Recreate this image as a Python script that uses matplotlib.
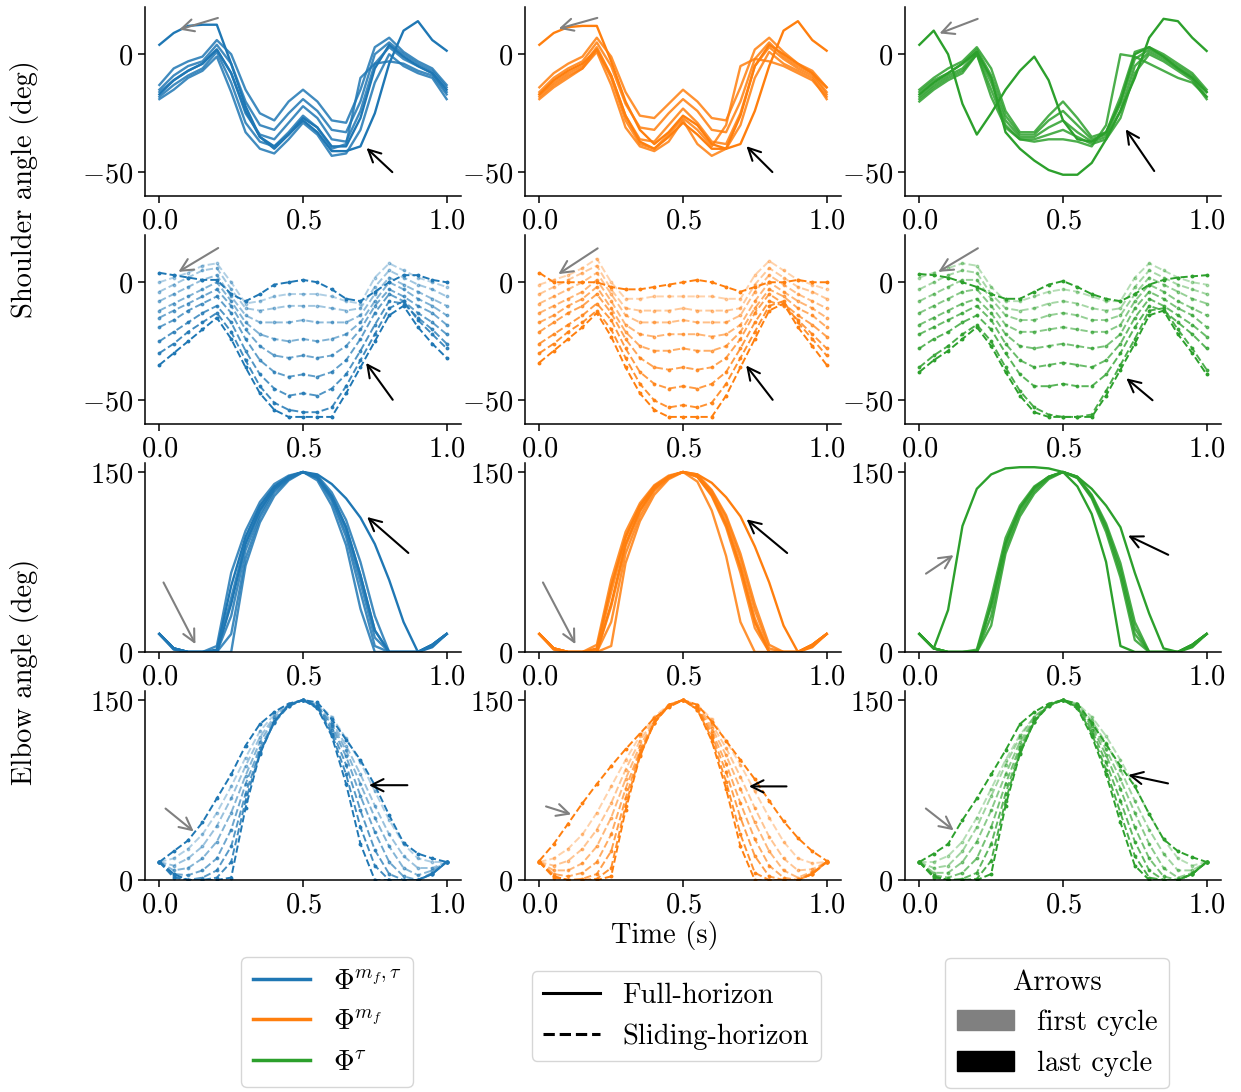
import numpy as np
import matplotlib
matplotlib.use("Agg")
import matplotlib.pyplot as plt
from matplotlib.lines import Line2D
from matplotlib.patches import Patch

plt.rcParams.update({
    "font.family": "serif",
    "font.serif": ["cmr10"],
    "mathtext.fontset": "cm",
    "axes.formatter.use_mathtext": True,
    "font.size": 20.5,
    "axes.linewidth": 1.1,
})

# temps (s), 21 points par cycle
t = [0.0, 0.05, 0.1, 0.15, 0.2, 0.25, 0.3, 0.35, 0.4, 0.45, 0.5,
     0.55, 0.6, 0.65, 0.7, 0.75, 0.8, 0.85, 0.9, 0.95, 1.0]

# ---- epaule, horizon complet (premier cycle en tete, dernier en fin) ----
sh_full_blue = [
    [4, 9, 12, 12.5, 12.5, -4, -22, -35, -40, -34, -27, -31, -39, -39, -27, -6, 4, -1, -5, -8, -15],
    [-13, -6, -3, -1, 6, 0, -15, -25, -28, -20, -15, -20, -28, -29, -15, 3, 7, 1, -3, -6, -13],
    [-15, -9, -5, -3, 4, -4, -20, -30, -32, -25, -19, -24, -32, -33, -20, 0, 5, 0, -4, -7, -14],
    [-16, -11, -7, -4, 2, -8, -25, -34, -36, -29, -22, -27, -36, -37, -24, -4, 3, -2, -5, -8, -16],
    [-18, -13, -9, -6, 1, -12, -29, -37, -39, -33, -26, -31, -40, -38, -10, -4, -3, -4, -7, -9, -17],
    [-19, -15, -10, -7, -1, -16, -33, -40, -42, -36, -29, -34, -43, -42, -32, -12, 0, -5, -8, -10, -19],
    [-17, -11, -7, -4, 2, -8, -24, -35, -39, -34, -28, -33, -41, -41, -39, -25, -4, 10, 14, 6, 1.5],
]
sh_full_orange = [
    [4, 9, 11.5, 12, 12, -3, -20, -32, -38, -33, -26, -30, -38, -40, -26, -5, 4, 0, -4, -8, -14],
    [-14, -8, -4, -1, 7, -1, -16, -26, -27, -21, -15, -20, -27, -28, -14, 2, 7, 1, -4, -7, -14],
    [-16, -10, -6, -3, 5, -5, -21, -31, -32, -25, -19, -24, -32, -33, -20, -2, 5, -1, -5, -8, -16],
    [-17, -12, -8, -5, 3, -9, -26, -36, -37, -30, -23, -29, -37, -38, -25, -5, 3, -2, -6, -9, -17],
    [-19, -14, -10, -6, 1, -13, -31, -39, -41, -37, -28, -38, -43, -40, -30, -10, 1, -4, -7, -10, -19],
    [-18, -13, -9, -6, 2, -10, -28, -38, -40, -34, -27, -32, -39, -30, -5, -2, -3, -5, -8, -11, -18],
    [-17, -11, -7, -4, 2, -9, -26, -37, -40, -35, -29, -34, -40, -40, -38, -24, -5, 10, 14, 6, 1.5],
]
sh_full_green = [
    [4, 10, 0, -21, -34, -25, -15, -7, -1, -11, -28, -36, -37, -33, -20, 0, 3, -1, -6, -10, -16],
    [-15, -10, -6, -3, 3, -6, -24, -33, -33, -26, -20, -27, -35, -33, -18, 1, 3, 0, -4, -8, -15],
    [-16, -11, -8, -4, 2, -9, -26, -34, -34, -28, -24, -30, -36, -34, -21, -2, 2, -1, -5, -9, -16],
    [-18, -13, -9, -6, 1, -12, -28, -35, -35, -31, -28, -33, -37, -35, -24, -5, 1, -2, -6, -10, -18],
    [-19, -14, -10, -7, 0, -15, -30, -36, -36, -34, -32, -35, -38, -36, -27, -8, 0, -3, -7, -11, -19],
    [-20, -15, -11, -8, 0, -18, -31, -36, -37, -36, -36, -37, -39, -30, 0, -1, -4, -7, -10, -12, -18],
    [-17, -12, -8, -4, 1, -10, -33, -40, -45, -49, -51, -51, -46, -36, -24, -10, 7, 15, 14, 7, 1.4],
]

# ---- epaule, horizon glissant ----
sh_slide_blue = [
    [4, 3, 2, 1, 1, -5, -8, -5, -1, 0, 1, 0, -3, -7, -8, -4, 0, 3, 3, 1, 0],
    [0, 2, 4, 7, 8, 0, -9, -8, -6, -5, -5, -5, -6, -8, -9, 2, 8, 5, 2, 0, -2],
    [-4, -1, 2, 5, 6, -3, -11, -12, -11, -10, -10, -10, -11, -12, -11, -2, 5, 2, -1, -3, -6],
    [-8, -5, -2, 1, 3, -6, -14, -17, -17, -17, -16, -17, -17, -17, -14, -5, 2, -1, -4, -7, -10],
    [-12, -9, -6, -3, 0, -8, -17, -22, -24, -25, -24, -25, -24, -22, -17, -8, 0, -3, -7, -10, -14],
    [-15, -12, -9, -6, -3, -10, -20, -27, -31, -32, -31, -32, -31, -27, -20, -10, -3, -6, -10, -13, -18],
    [-19, -16, -12, -9, -6, -13, -24, -33, -38, -40, -39, -40, -38, -33, -24, -13, -5, -8, -13, -17, -22],
    [-25, -21, -17, -13, -10, -17, -29, -39, -45, -48, -47, -48, -45, -39, -29, -18, -8, -9, -15, -20, -26],
    [-30, -26, -21, -17, -13, -21, -33, -44, -51, -54, -55, -55, -53, -44, -33, -22, -11, -8, -16, -22, -28],
    [-35, -30, -25, -20, -15, -24, -36, -47, -54, -57, -57, -57, -57, -47, -36, -25, -14, -10, -19, -26, -32],
]
sh_slide_orange = [
    [4, 0, 0, 0, 0, -2, -3, -3, -2, -1, 0, 1, 0, -2, -4, -2, 0, 0, 1, 0, 0],
    [-1, 1, 3, 6, 10, 0, -7, -7, -6, -6, -6, -6, -6, -7, -7, 3, 9, 5, 1, -1, -3],
    [-5, -2, 1, 4, 7, -3, -11, -12, -12, -12, -11, -12, -12, -12, -11, -1, 6, 2, -2, -4, -7],
    [-9, -6, -3, 0, 4, -5, -14, -17, -17, -17, -16, -17, -17, -17, -14, -4, 3, -1, -5, -8, -11],
    [-13, -10, -7, -4, 1, -8, -18, -22, -23, -22, -22, -22, -23, -22, -18, -8, 0, -4, -8, -11, -15],
    [-17, -14, -10, -7, -2, -11, -21, -27, -29, -29, -28, -29, -29, -27, -21, -11, -3, -6, -11, -14, -19],
    [-21, -17, -13, -10, -5, -13, -24, -32, -36, -37, -36, -37, -36, -32, -24, -13, -5, -9, -14, -18, -23],
    [-26, -22, -18, -14, -9, -16, -28, -38, -43, -45, -44, -45, -43, -38, -28, -17, -8, -10, -16, -22, -28],
    [-30, -26, -21, -17, -12, -20, -32, -43, -50, -53, -52, -53, -51, -43, -32, -21, -10, -8, -17, -24, -31],
    [-34, -29, -24, -19, -13, -23, -36, -47, -54, -57, -57, -57, -57, -48, -36, -24, -12, -9, -19, -27, -35],
]
sh_slide_green = [
    [3.5, 3, 2, 0, -2, -5, -7, -7, -4, -1, 0.5, -2, -5, -7, -8, -5, -1, 1, 2, 2.5, 3],
    [2, 4, 6, 8, 7, -2, -8, -8, -6, -4, -3, -4, -6, -8, -8, 2, 8, 5, 2, 0, -1],
    [-3, 0, 3, 5, 4, -5, -11, -12, -11, -9, -8, -9, -11, -12, -11, -2, 5, 2, -1, -3, -5],
    [-8, -5, -2, 1, 1, -7, -14, -16, -16, -14, -13, -14, -16, -16, -14, -5, 2, -1, -4, -7, -9],
    [-13, -10, -7, -4, -3, -10, -18, -21, -21, -20, -19, -20, -21, -21, -18, -8, -1, -4, -8, -11, -14],
    [-18, -15, -12, -9, -7, -13, -22, -27, -28, -27, -26, -27, -28, -27, -22, -11, -4, -7, -11, -14, -19],
    [-22, -19, -16, -13, -10, -16, -26, -33, -36, -35, -34, -35, -36, -33, -26, -15, -7, -10, -14, -18, -23],
    [-28, -24, -21, -17, -14, -20, -30, -39, -44, -44, -43, -44, -44, -39, -30, -19, -10, -12, -17, -22, -28],
    [-36, -31, -27, -22, -18, -25, -36, -46, -53, -56, -57, -57, -56, -46, -35, -24, -12, -11, -20, -28, -37],
    [-38, -33, -29, -24, -19, -27, -38, -48, -55, -57, -57, -57, -57, -48, -37, -26, -14, -12, -22, -30, -39],
]

# ---- coude, horizon complet ----
el_full_blue = [
    [15, 2, 0, 0, 0, 40, 90, 118, 136, 146, 150, 146, 130, 104, 64, 18, 0, 0, 0, 5, 15],
    [15, 3, 0, 0, 5, 66, 101, 125, 140, 147, 150, 143, 122, 89, 36, 0, 0, 0, 0, 6, 15],
    [15, 3, 0, 0, 0, 45, 92, 120, 137, 146, 150, 145, 126, 96, 50, 5, 0, 0, 0, 6, 15],
    [15, 3, 0, 0, 0, 30, 85, 115, 135, 145, 150, 145, 128, 100, 58, 12, 0, 0, 0, 6, 15],
    [15, 3, 0, 0, 0, 15, 78, 112, 133, 144, 150, 146, 130, 104, 64, 18, 0, 0, 0, 6, 15],
    [15, 3, 0, 0, 0, 0, 72, 108, 130, 143, 150, 147, 133, 110, 75, 30, 0, 0, 0, 6, 15],
    [15, 3, 0, 0, 2, 55, 96, 122, 138, 146, 150, 148, 140, 128, 112, 90, 60, 25, 0, 4, 15],
]
el_full_orange = [
    [15, 2, 0, 0, 0, 40, 90, 118, 136, 146, 150, 146, 131, 106, 70, 25, 0, 0, 0, 5, 15],
    [15, 3, 0, 0, 6, 60, 100, 124, 139, 147, 150, 142, 118, 80, 25, 0, 0, 0, 0, 6, 15],
    [15, 3, 0, 0, 2, 50, 95, 121, 138, 146, 150, 146, 130, 104, 66, 20, 0, 0, 0, 6, 15],
    [15, 3, 0, 0, 0, 38, 88, 117, 136, 146, 150, 147, 132, 108, 72, 28, 0, 0, 0, 6, 15],
    [15, 3, 0, 0, 0, 25, 82, 113, 134, 145, 150, 147, 134, 112, 78, 35, 3, 0, 0, 6, 15],
    [15, 3, 0, 0, 0, 5, 74, 109, 131, 144, 150, 148, 135, 114, 82, 40, 6, 0, 0, 6, 15],
    [15, 3, 0, 0, 3, 55, 96, 122, 138, 146, 150, 148, 141, 129, 113, 88, 58, 22, 0, 4, 15],
]
el_full_green = [
    [15, 3, 35, 105, 136, 148, 153, 154, 154, 153, 150, 138, 115, 75, 5, 0, 0, 0, 0, 6, 15],
    [15, 3, 0, 0, 2, 45, 95, 122, 138, 146, 150, 145, 128, 100, 62, 10, 0, 0, 0, 6, 15],
    [15, 3, 0, 0, 0, 38, 90, 119, 136, 146, 150, 145, 129, 103, 66, 15, 0, 0, 0, 6, 15],
    [15, 3, 0, 0, 0, 30, 86, 116, 134, 145, 150, 146, 130, 105, 70, 20, 0, 0, 0, 6, 15],
    [15, 3, 0, 0, 0, 22, 82, 113, 132, 144, 150, 146, 131, 107, 74, 25, 0, 0, 0, 6, 15],
    [15, 3, 0, 0, 1, 40, 91, 120, 137, 146, 150, 146, 136, 122, 104, 66, 32, 3, 0, 4, 15],
]

# ---- coude, horizon glissant ----
el_slide_blue = [
    [15, 24, 33, 48, 68, 88, 112, 130, 140, 147, 150, 148, 134, 117, 100, 79, 54, 31, 22, 18, 15],
    [15, 18, 26, 38, 56, 78, 102, 124, 138, 146, 150, 147, 136, 118, 98, 74, 50, 30, 18, 15, 15],
    [15, 12, 18, 28, 45, 68, 95, 119, 136, 146, 150, 146, 132, 112, 88, 62, 38, 20, 10, 10, 15],
    [15, 8, 10, 18, 32, 56, 87, 115, 134, 145, 150, 145, 130, 108, 80, 52, 28, 10, 4, 8, 15],
    [15, 5, 4, 8, 18, 42, 80, 110, 132, 145, 150, 145, 128, 103, 70, 40, 15, 3, 0, 6, 15],
    [15, 3, 0, 2, 8, 28, 72, 107, 131, 145, 150, 144, 125, 96, 58, 25, 5, 0, 0, 5, 15],
    [15, 2, 0, 0, 2, 15, 66, 106, 132, 146, 150, 144, 122, 88, 44, 12, 0, 0, 0, 5, 15],
    [15, 5, 0, 0, 0, 2, 60, 105, 132, 146, 150, 143, 120, 80, 30, 0, 0, 0, 0, 5, 15],
]
el_slide_orange = [
    [16, 30, 47, 64, 80, 95, 109, 122, 135, 144, 150, 146, 132, 116, 100, 84, 66, 49, 35, 24, 16],
    [15, 18, 26, 38, 56, 78, 100, 120, 136, 146, 150, 146, 134, 116, 96, 74, 52, 32, 18, 14, 15],
    [15, 12, 16, 26, 42, 64, 92, 116, 134, 145, 150, 145, 130, 110, 86, 60, 36, 18, 8, 9, 15],
    [15, 8, 8, 14, 28, 52, 84, 112, 132, 145, 150, 144, 127, 104, 76, 48, 24, 8, 2, 7, 15],
    [15, 5, 3, 6, 15, 38, 76, 108, 131, 145, 150, 143, 124, 97, 64, 34, 12, 2, 0, 6, 15],
    [15, 3, 0, 1, 5, 24, 68, 106, 131, 145, 150, 143, 121, 90, 52, 20, 3, 0, 0, 5, 15],
    [15, 2, 0, 0, 1, 10, 62, 104, 131, 146, 150, 142, 118, 82, 38, 6, 0, 0, 0, 5, 15],
    [15, 3, 0, 0, 0, 3, 58, 103, 131, 146, 150, 142, 116, 76, 28, 0, 0, 0, 0, 5, 15],
]
el_slide_green = [
    [15, 22, 30, 50, 68, 88, 108, 130, 140, 147, 150, 147, 131, 113, 95, 78, 55, 34, 24, 19, 15],
    [15, 15, 20, 32, 52, 76, 100, 121, 136, 146, 150, 147, 136, 120, 100, 78, 55, 34, 18, 12, 15],
    [15, 10, 12, 24, 44, 70, 96, 119, 136, 146, 150, 146, 133, 114, 92, 66, 42, 22, 8, 8, 15],
    [15, 6, 6, 15, 32, 58, 88, 115, 134, 146, 150, 145, 130, 109, 84, 56, 30, 10, 2, 6, 15],
    [15, 4, 2, 6, 18, 44, 80, 111, 133, 145, 150, 145, 128, 104, 76, 44, 18, 3, 0, 5, 15],
    [15, 3, 0, 1, 6, 30, 72, 108, 132, 145, 150, 144, 125, 98, 66, 32, 8, 0, 0, 5, 15],
    [15, 2, 0, 0, 1, 16, 66, 106, 132, 146, 150, 144, 122, 92, 56, 20, 2, 0, 0, 5, 15],
    [15, 3, 0, 0, 0, 5, 62, 105, 132, 146, 150, 143, 120, 88, 48, 12, 0, 0, 0, 5, 15],
]

# fleches (pointe, queue) en coordonnees des donnees
arrow_first = [
    [((0.06, 10.1), (0.213, 15.7)), ((0.058, 10.5), (0.211, 15.7)), ((0.061, 8.4), (0.212, 15.4))],
    [((0.058, 3.8), (0.213, 15.1)), ((0.058, 2.8), (0.211, 15.0)), ((0.058, 3.8), (0.212, 15.0))],
    [((0.13, 4.5), (0.010, 60)), ((0.13, 4.5), (0.008, 60)), ((0.127, 82), (0.015, 64))],
    [((0.127, 39), (0.014, 61)), ((0.12, 54), (0.014, 62)), ((0.127, 40), (0.015, 61))],
]
arrow_last = [
    [((0.714, -38.9), (0.818, -50.7)), ((0.714, -38.1), (0.818, -50.7)), ((0.713, -30.8), (0.823, -50.4))],
    [((0.714, -33.2), (0.818, -50.7)), ((0.714, -34.3), (0.818, -50.7)), ((0.713, -39.9), (0.819, -50.7))],
    [((0.716, 114), (0.874, 81)), ((0.714, 112), (0.870, 81)), ((0.718, 98), (0.875, 80))],
    [((0.72, 79), (0.873, 79)), ((0.72, 78), (0.870, 78)), ((0.718, 88), (0.875, 80))],
]

panels = [
    [sh_full_blue, sh_full_orange, sh_full_green],
    [sh_slide_blue, sh_slide_orange, sh_slide_green],
    [el_full_blue, el_full_orange, el_full_green],
    [el_slide_blue, el_slide_orange, el_slide_green],
]
colors = ["#1f77b4", "#ff7f0e", "#2ca02c"]

W, H = 1241, 1092
fig = plt.figure(figsize=(W / 100, H / 100), dpi=100)

lefts = [145, 525, 905]
for r in range(4):
    for c in range(3):
        top = 7 + 228 * r
        ax = fig.add_axes([lefts[c] / W, 1 - (top + 189) / H, 316 / W, 189 / H])
        curves = panels[r][c]
        n = len(curves)
        col = colors[c]
        sliding = r in (1, 3)
        if sliding:
            alphas = [1.0] + list(np.linspace(0.35, 0.85, n - 2)) + [1.0]
        order = list(range(1, n - 1)) + [0, n - 1]
        for i in order:
            if sliding:
                ax.plot(t, curves[i], color=col, ls="--", lw=1.4, marker="o", ms=1.8,
                        alpha=alphas[i])
            else:
                a = 1.0 if i in (0, n - 1) else 0.85
                ax.plot(t, curves[i], color=col, lw=1.7, alpha=a)

        (h1, t1) = arrow_first[r][c]
        (h2, t2) = arrow_last[r][c]
        ax.annotate("", xy=h1, xytext=t1,
                    arrowprops=dict(arrowstyle="->", color="gray", lw=1.5, mutation_scale=22))
        ax.annotate("", xy=h2, xytext=t2,
                    arrowprops=dict(arrowstyle="->", color="black", lw=1.5, mutation_scale=22))

        ax.set_xlim(-0.05, 1.05)
        ax.set_xticks([0, 0.5, 1.0])
        if r < 2:
            ax.set_ylim(-60, 20)
            ax.set_yticks([-50, 0])
        else:
            ax.set_ylim(0, 157.5)
            ax.set_yticks([0, 150])
        ax.spines["top"].set_visible(False)
        ax.spines["right"].set_visible(False)
        ax.tick_params(labelsize=20.5, width=1.1, length=5)

fig.text(25 / W, 1 - 189 / H, "Shoulder angle (deg)", rotation=90, ha="center", va="center")
fig.text(25 / W, 1 - 672 / H, "Elbow angle (deg)", rotation=90, ha="center", va="center")
fig.text(665 / W, 1 - 935 / H, "Time (s)", ha="center", va="center")

# legendes
h_colors = [Line2D([], [], color=colors[0], lw=2.5),
            Line2D([], [], color=colors[1], lw=2.5),
            Line2D([], [], color=colors[2], lw=2.5)]
leg1 = fig.legend(h_colors, [r"$\Phi^{m_f,\tau}$", r"$\Phi^{m_f}$", r"$\Phi^{\tau}$"],
                  loc="center", bbox_to_anchor=(327 / W, 1 - 1022 / H))
h_styles = [Line2D([], [], color="black", lw=2.2, ls="-"),
            Line2D([], [], color="black", lw=2.2, ls="--")]
leg2 = fig.legend(h_styles, ["Full-horizon", "Sliding-horizon"],
                  loc="center", bbox_to_anchor=(676 / W, 1 - 1016 / H))
h_arrows = [Patch(color="gray"), Patch(color="black")]
leg3 = fig.legend(h_arrows, ["first cycle", "last cycle"], title="Arrows",
                  loc="center", bbox_to_anchor=(1057 / W, 1 - 1023 / H),
                  title_fontsize=20.5)

fig.savefig("out.png", dpi=100)
